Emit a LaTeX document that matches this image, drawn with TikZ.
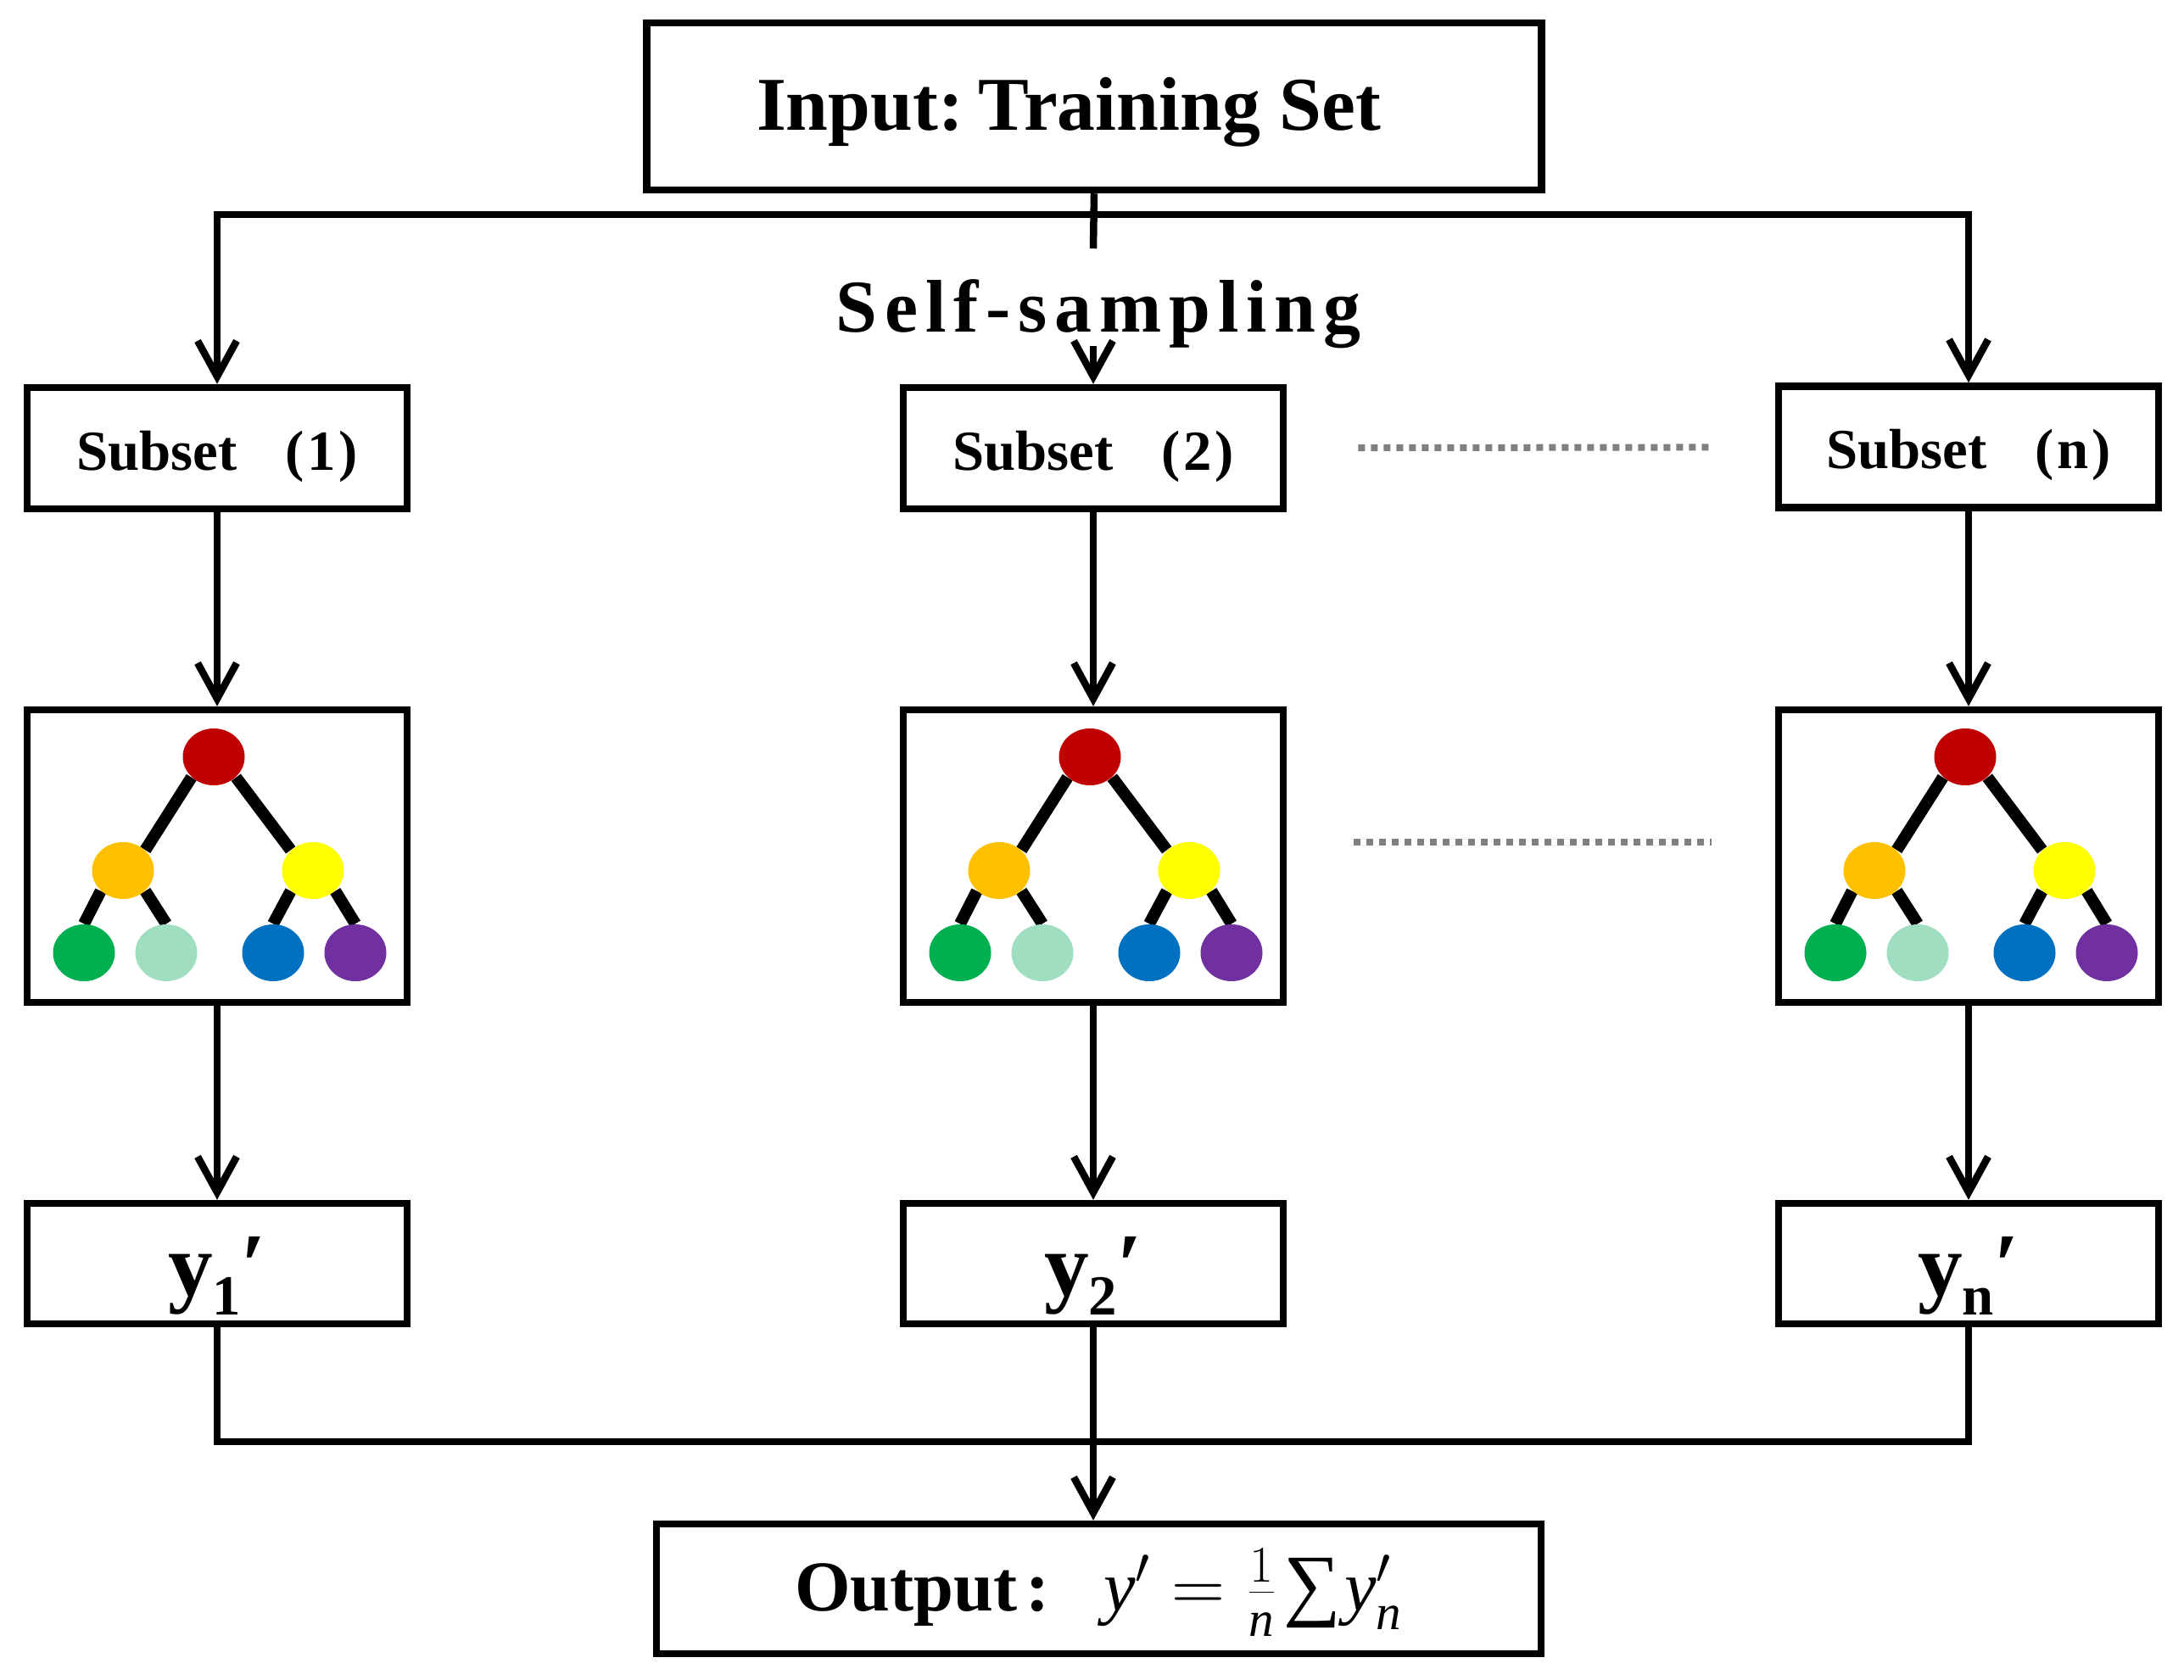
\documentclass[tikz,border=0pt]{standalone}
\usepackage{fontspec}
\setmainfont{Liberation Serif}
\newfontfamily\spacedfont[LetterSpace=10]{Liberation Serif}
\usetikzlibrary{arrows.meta,backgrounds,shapes.geometric}

\definecolor{treeRed}{HTML}{C00000}
\definecolor{treeOrange}{HTML}{FFC000}
\definecolor{treeYellow}{HTML}{FFFF00}
\definecolor{treeGreen}{HTML}{00B050}
\definecolor{treeMint}{HTML}{A0DEC1}
\definecolor{treeBlue}{HTML}{0070C0}
\definecolor{treePurple}{HTML}{7030A0}

% small binary tree, drawn round the current origin
\newcommand{\dtree}[1]{%
  \node[leaf,fill=treeRed]    (#1r) at (-0.04,1.17) {};
  \node[leaf,fill=treeOrange] (#1a) at (-1.11,-0.17) {};
  \node[leaf,fill=treeYellow] (#1b) at (1.13,-0.17) {};
  \node[leaf,fill=treeGreen]  (#1c) at (-1.57,-1.14) {};
  \node[leaf,fill=treeMint]   (#1d) at (-0.60,-1.14) {};
  \node[leaf,fill=treeBlue]   (#1e) at (0.66,-1.14) {};
  \node[leaf,fill=treePurple] (#1f) at (1.63,-1.14) {};
  \begin{pgfonlayer}{background}
  \draw[branch] (#1r.south west) -- (#1a.north east);
  \draw[branch] (#1r.south east) -- (#1b.north west);
  \draw[branch] (#1a.south west) -- (#1c.north);
  \draw[branch] (#1a.south east) -- (#1d.north);
  \draw[branch] (#1b.south west) -- (#1e.north);
  \draw[branch] (#1b.south east) -- (#1f.north);
  \end{pgfonlayer}}

% y_i' label
\newcommand{\yprime}[1]{y\raisebox{-0.22em}{\fontsize{19}{19}\selectfont #1}′}

\begin{document}
\begin{tikzpicture}[
  box/.style={draw,line width=0.085cm,inner sep=0pt},
  col/.style={box,minimum width=4.48cm},
  subbox/.style={col,minimum height=1.43cm,text height=0.64cm,text depth=0.12cm,
    font=\fontsize{19}{22}\selectfont\bfseries},
  treebox/.style={col,minimum height=3.45cm},
  ybox/.style={col,minimum height=1.42cm,text height=0.95cm,text depth=0.21cm,
    font=\fontsize{30}{36}\selectfont\bfseries},
  line/.style={line width=0.085cm},
  arr/.style={line width=0.085cm,-{Straight Barb[length=0.42cm,width=0.46cm]}},
  dots/.style={draw=gray,line width=0.08cm,dash pattern=on 0.08cm off 0.07cm},
  leaf/.style={ellipse,minimum width=0.73cm,minimum height=0.67cm,inner sep=0pt},
  branch/.style={line width=0.14cm}]
\useasboundingbox (0,0) rectangle (25.75,-19.81);

\node[box,minimum width=10.55cm,minimum height=1.97cm,text height=0.77cm,text depth=0.2cm,
  font=\fontsize{25.5}{30}\selectfont\bfseries] (Input) at (12.90,-1.255)
  {Input:\kern-0.05em\ Training Set\kern0.6cm};
\node[anchor=base,font=\spacedfont\fontsize{25}{30}\selectfont\bfseries] (samp)
  at (12.95,-3.92) {Self-sampling};

\node[subbox] (S1) at (2.56,-5.285) {Subset\hspace{0.85em}(\kern0.06em 1\kern0.06em)};
\node[subbox] (S2) at (12.89,-5.285) {Subset\hspace{0.85em}(\kern0.06em 2\kern0.06em)};
\node[subbox] (Sn) at (23.21,-5.27) {Subset\hspace{0.85em}(\kern0.06em n\kern0.06em)};

\node[treebox] (T1) at (2.56,-10.095) {};
\node[treebox] (T2) at (12.89,-10.095) {};
\node[treebox] (Tn) at (23.21,-10.095) {};
\begin{scope}[shift={(2.56,-10.095)}] \dtree{a} \end{scope}
\begin{scope}[shift={(12.89,-10.095)}] \dtree{b} \end{scope}
\begin{scope}[shift={(23.21,-10.095)}] \dtree{c} \end{scope}

\node[ybox] (Y1) at (2.56,-14.90) {\yprime{1}};
\node[ybox] (Y2) at (12.89,-14.90) {\yprime{2}};
\node[ybox] (Yn) at (23.21,-14.90) {\yprime{n}};

\node[box,minimum width=10.43cm,minimum height=1.53cm,text height=0.72cm,text depth=0.2cm,
  font=\fontsize{24}{28}\selectfont\bfseries] (Out) at (12.955,-18.735)
  {Output\hspace{0.12em}:\hspace{0.75em}\mdseries$\mathit{y}'=\frac{1}{\mathit{n}}$\kern0.08em{\fontsize{27}{28}\selectfont ∑}\kern0.05em$\mathit{y}'_{\mathit{n}}$};

% split
\coordinate (split) at (12.89,-2.53);
\coordinate (stem) at (12.89,-2.93);
\coordinate (sampend) at (12.89,-4.08);
\coordinate (join) at (12.89,-17.00);
\draw[line] (Input.south) -- (stem);
\draw[arr] (split) -| (S1.north);
\draw[arr] (split) -| (Sn.north);
\draw[arr] (sampend) -- (S2.north);

\draw[arr] (S1) -- (T1);
\draw[arr] (S2) -- (T2);
\draw[arr] (Sn) -- (Tn);
\draw[arr] (T1) -- (Y1);
\draw[arr] (T2) -- (Y2);
\draw[arr] (Tn) -- (Yn);

% join
\draw[line] (Y1) |- (join);
\draw[line] (Yn) |- (join);
\draw[arr] (Y2) -- (Y2 |- Out.north);

\draw[dots,shorten <=0.84cm,shorten >=0.75cm] (S2) -- (Sn);
\draw[dots,shorten <=0.79cm,shorten >=0.75cm] ([yshift=0.17cm]T2.east) -- ([yshift=0.17cm]Tn.west);
\end{tikzpicture}
\end{document}
